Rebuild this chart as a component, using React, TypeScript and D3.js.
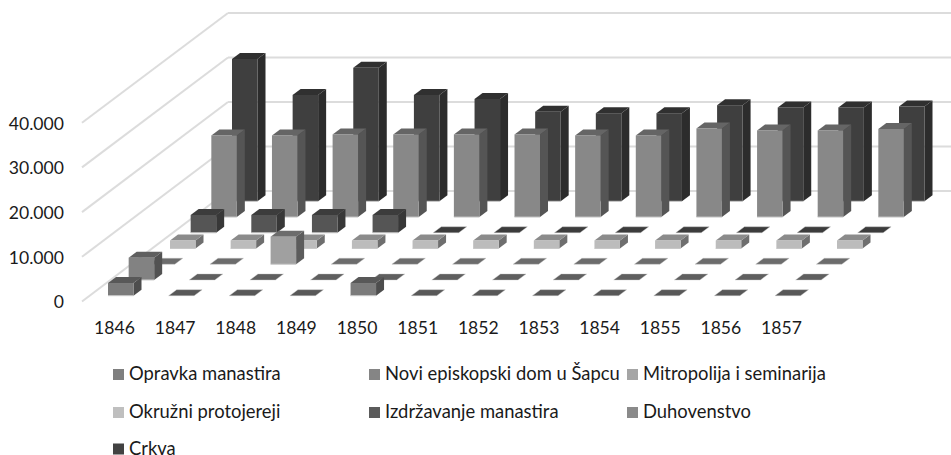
import React from "react";
import * as d3 from "d3";

const years = ["1846","1847","1848","1849","1850","1851","1852","1853","1854","1855","1856","1857"];
const seriesNames = ["Opravka manastira","Novi episkopski dom u Šapcu","Mitropolija i seminarija","Okružni protojereji","Izdržavanje manastira","Duhovenstvo","Crkva"];

const opravka = [2850,0,0,0,2850,0,0,0,0,0,0,0];
const novi = [5000,0,0,0,0,0,0,0,0,0,0,0];
const mitropolija = [0,0,6200,0,0,0,0,0,0,0,0,0];
const okruzni = [1800,1800,1800,1800,1800,1800,1800,1800,1800,1800,1800,1800];
const izdrzavanje = [4000,4000,4000,4000,0,0,0,0,0,0,0,0];
const duhovenstvo = [18340,18340,18560,18560,18560,18560,18340,18340,19900,19460,19460,19780];
const crkva = [31980,23900,30000,23900,23000,20130,19800,19800,21600,21100,21100,21300];
const seriesValues = [opravka,novi,mitropolija,okruzni,izdrzavanje,duhovenstvo,crkva];

const frontColors = ["#7b7b7b","#828282","#a0a0a0","#bcbcbc","#555555","#888888","#3f3f3f"];
const topColors = ["#585858","#5f5f5f","#6c6c6c","#8b8b8b","#3c3c3c","#656565","#303030"];
const sideColors = ["#4d4d4d","#525252","#5c5c5c","#6e6e6e","#383838","#555555","#2c2c2c"];
const legendColors = ["#7f7f7f","#858585","#a5a5a5","#bfbfbf","#5b5b5b","#8a8a8a","#424242"];
const axisTicks = [0,10000,20000,30000,40000];
const tickLabels = ["0","10.000","20.000","30.000","40.000"];

const W = 951, H = 455;
const FONT = "Lato, Carlito, sans-serif";

export default function App() {
  const xYear = d3.scaleLinear().domain([0, 11]).range([108, 775]);
  const xRow = d3.scaleLinear().domain([0, 6]).range([0, 124]);
  const yRow = d3.scaleLinear().domain([0, 6]).range([295.7, 201.3]);
  const h = d3.scaleLinear().domain([0, 10000]).range([0, 44.5]);
  const yFront = d3.scaleLinear().domain([0, 40000]).range([301.5, 122.7]);
  const yBack = d3.scaleLinear().domain([0, 40000]).range([191, 13]);
  const barW = 25.5, dx = 8, dy = 6;
  const legendCols = [113, 369, 627];
  const legendBase = [380, 418, 454.5];

  const pts = (a: number[][]) => a.map(p => p.join(",")).join(" ");
  const bars: React.ReactNode[] = [];
  for (let r = 6; r >= 0; r--) {
    seriesValues[r].forEach((v, i) => {
      const x = xYear(i) + xRow(r);
      const b = yRow(r);
      const t = b - h(v);
      const key = `${r}-${i}`;
      if (v === 0) {
        bars.push(<polygon key={key} points={pts([[x, b],[x + barW, b],[x + barW + dx, b - dy],[x + dx, b - dy]])} fill={topColors[r]} stroke="#c4c4c4" strokeWidth={0.4} />);
        return;
      }
      bars.push(
        <g key={key}>
          <polygon points={pts([[x + barW, t],[x + barW + dx, t - dy],[x + barW + dx, b - dy],[x + barW, b]])} fill={sideColors[r]} />
          <polygon points={pts([[x, t],[x + dx, t - dy],[x + barW + dx, t - dy],[x + barW, t]])} fill={topColors[r]} />
          <rect x={x} y={t} width={barW} height={b - t} fill={frontColors[r]} />
          <line x1={x} x2={x + barW} y1={b} y2={b} stroke="#c8c8c8" strokeWidth={1} />
        </g>
      );
    });
  }

  return (
    <svg width={W} height={H} style={{ position: "absolute", left: 0, top: 0, background: "#fff" }} fontFamily={FONT}>
      {axisTicks.map(t => (
        <g key={t} stroke="#dcdcdc" strokeWidth={2} fill="none">
          <line x1={82} y1={yFront(t)} x2={228} y2={yBack(t)} />
          <line x1={228} y1={yBack(t)} x2={951} y2={yBack(t)} />
        </g>
      ))}
      {bars}
      {axisTicks.map((t, i) => (
        <text key={t} x={64} y={yFront(t) + 6.8} textAnchor="end" fontSize={17.6} fill="#1a1a1a">{tickLabels[i]}</text>
      ))}
      {years.map((y, i) => (
        <text key={y} x={xYear(i) + 6.5} y={334} textAnchor="middle" fontSize={17.6} fill="#1a1a1a">{y}</text>
      ))}
      {seriesNames.map((n, i) => {
        const lx = legendCols[i % 3];
        const row = Math.floor(i / 3);
        const ly = legendBase[row];
        return (
          <g key={n}>
            <rect x={lx} y={ly - 11} width={11} height={11} fill={legendColors[i]} />
            <text x={lx + 16} y={ly} fontSize={18.4} fill="#1a1a1a">{n}</text>
          </g>
        );
      })}
    </svg>
  );
}
